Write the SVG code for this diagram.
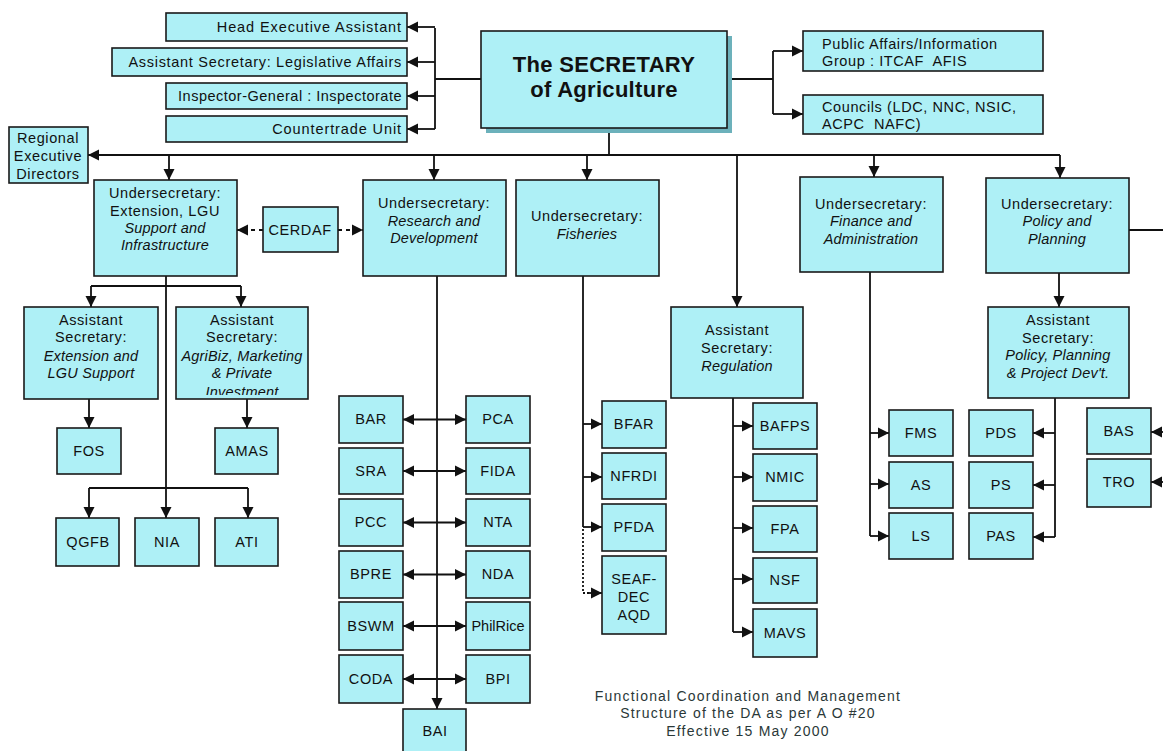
<svg xmlns="http://www.w3.org/2000/svg" width="1163" height="751" viewBox="0 0 1163 751">
<style>
.b{fill:#aef0f6;stroke:#1a1a1a;stroke-width:1.6}
.t{font-family:"Liberation Sans",Arial,sans-serif;font-size:14.5px;letter-spacing:0.6px;fill:#111;text-anchor:middle}
.i{font-style:italic;letter-spacing:0.2px}
.l{text-anchor:start}
.r{text-anchor:end;letter-spacing:0.9px}
.c{fill:none;stroke:#111;stroke-width:1.8}
.a{marker-end:url(#ah)}
.d{marker-start:url(#ah);marker-end:url(#ah)}
.cap{font-family:"Liberation Sans",Arial,sans-serif;font-size:14px;letter-spacing:1.2px;fill:#2a3838;text-anchor:middle}
</style>
<defs>
<marker id="ah" markerUnits="userSpaceOnUse" markerWidth="13" markerHeight="13" refX="11" refY="6.5" orient="auto-start-reverse">
<path d="M0,1 L11,6.5 L0,12 Z" fill="#111"/>
</marker>
<clipPath id="agriClip"><rect x="176" y="307" width="132" height="88"/></clipPath>
</defs>
<rect width="1163" height="751" fill="#fff"/>

<g id="connectors">
<path class="c" d="M435,28 V129 M435,79 H481"/>
<path class="c a" d="M435,27 H407"/>
<path class="c a" d="M435,62 H407"/>
<path class="c a" d="M435,96 H407"/>
<path class="c a" d="M435,129 H407"/>
<path class="c" d="M727,79 H773 M773,51 V114"/>
<path class="c a" d="M773,51 H803"/>
<path class="c a" d="M773,114 H803"/>
<path class="c" d="M609,133 V155"/>
<path class="c a" d="M1060,155 H88"/>
<path class="c a" d="M169,155 V180"/>
<path class="c a" d="M434,155 V180"/>
<path class="c a" d="M587,155 V180"/>
<path class="c a" d="M737,155 V307"/>
<path class="c a" d="M874,155 V177"/>
<path class="c a" d="M1060,155 V178"/>
<path class="c" d="M1129,230 H1163"/>
<path class="c a" d="M1059,273 V307"/>
<path class="c" d="M91,286 H241"/>
<path class="c a" d="M166,276 V518"/>
<path class="c a" d="M91,286 V307"/>
<path class="c a" d="M241,286 V307"/>
<path class="c a" d="M89,399 V428"/>
<path class="c a" d="M247,399 V428"/>
<path class="c" d="M89,488 H248"/>
<path class="c a" d="M89,488 V518"/>
<path class="c a" d="M248,488 V518"/>
<path class="c a" d="M263,230 H237" stroke-dasharray="4 4"/>
<path class="c a" d="M338,230 H363" stroke-dasharray="4 4"/>
<path class="c a" d="M437,276 V709"/>
<path class="c d" d="M466,419.5 H403"/>
<path class="c d" d="M466,471 H403"/>
<path class="c d" d="M466,522.5 H403"/>
<path class="c d" d="M466,574.5 H403"/>
<path class="c d" d="M466,626 H403"/>
<path class="c d" d="M466,679 H403"/>
<path class="c" d="M583,276 V527"/>
<path class="c a" d="M583,424 H602"/>
<path class="c a" d="M583,477 H602"/>
<path class="c a" d="M583,527 H602"/>
<path class="c" d="M583,529 V593 H590" stroke-dasharray="2 2" stroke-width="1.5"/>
<path class="c a" d="M589,593 H602"/>
<path class="c" d="M733,398 V632"/>
<path class="c a" d="M733,426 H753"/>
<path class="c a" d="M733,477 H753"/>
<path class="c a" d="M733,528 H753"/>
<path class="c a" d="M733,579 H753"/>
<path class="c a" d="M733,632 H753"/>
<path class="c" d="M870,272 V536"/>
<path class="c a" d="M870,433 H889"/>
<path class="c a" d="M870,484 H889"/>
<path class="c a" d="M870,536 H889"/>
<path class="c" d="M1055,398 V537"/>
<path class="c a" d="M1055,433 H1033"/>
<path class="c a" d="M1055,485 H1033"/>
<path class="c a" d="M1055,537 H1033"/>
<path class="c a" d="M1165,432 H1151"/>
<path class="c a" d="M1165,482 H1151"/>
</g>

<g id="head-exec"><rect class="b" x="166" y="13" width="241" height="28"/><text class="t r" x="402" y="32">Head Executive Assistant</text></g>
<g id="legislative"><rect class="b" x="112" y="48" width="295" height="28"/><text class="t r" x="402" y="67" style="letter-spacing:0.7px">Assistant Secretary: Legislative Affairs</text></g>
<g id="inspector"><rect class="b" x="166" y="83" width="241" height="26"/><text class="t r" x="402" y="101" style="letter-spacing:0.5px">Inspector-General : Inspectorate</text></g>
<g id="countertrade"><rect class="b" x="166" y="116" width="241" height="26"/><text class="t r" x="402" y="134">Countertrade Unit</text></g>

<g id="secretary">
<rect x="486" y="36" width="246" height="97" fill="#6cb1bb"/>
<rect class="b" x="481" y="31" width="246" height="97"/>
<text class="t" x="604" y="72" style="font-size:22px;font-weight:bold;letter-spacing:0.3px">The SECRETARY</text>
<text class="t" x="604" y="97" style="font-size:22px;font-weight:bold;letter-spacing:0.3px">of Agriculture</text>
</g>
<g id="public-affairs"><rect class="b" x="803" y="31" width="240" height="40"/><text class="t l" x="822" y="49">Public Affairs/Information</text><text class="t l" x="822" y="66" xml:space="preserve">Group : ITCAF  AFIS</text></g>
<g id="councils"><rect class="b" x="803" y="95" width="240" height="39"/><text class="t l" x="822" y="112">Councils (LDC, NNC, NSIC,</text><text class="t l" x="822" y="129" xml:space="preserve">ACPC  NAFC)</text></g>

<g id="regional"><rect class="b" x="9" y="127" width="79" height="56"/><text class="t" x="48" y="143">Regional</text><text class="t" x="48" y="161">Executive</text><text class="t" x="48" y="179">Directors</text></g>

<g id="usec-extension"><rect class="b" x="94" y="180" width="143" height="96"/><text class="t" x="165" y="198">Undersecretary:</text><text class="t" x="165" y="216">Extension, LGU</text><text class="t i" x="165" y="233">Support and</text><text class="t i" x="165" y="250">Infrastructure</text></g>
<g id="cerdaf"><rect class="b" x="263" y="207" width="75" height="45"/><text class="t" x="300" y="235">CERDAF</text></g>
<g id="usec-rd"><rect class="b" x="363" y="180" width="143" height="96"/><text class="t" x="434" y="208">Undersecretary:</text><text class="t i" x="434" y="226">Research and</text><text class="t i" x="434" y="243">Development</text></g>
<g id="usec-fisheries"><rect class="b" x="516" y="180" width="143" height="96"/><text class="t" x="587" y="221">Undersecretary:</text><text class="t i" x="587" y="239">Fisheries</text></g>
<g id="usec-finance"><rect class="b" x="800" y="177" width="143" height="95"/><text class="t" x="871" y="209">Undersecretary:</text><text class="t i" x="871" y="226">Finance and</text><text class="t i" x="871" y="244">Administration</text></g>
<g id="usec-policy"><rect class="b" x="986" y="178" width="143" height="95"/><text class="t" x="1057" y="209">Undersecretary:</text><text class="t i" x="1057" y="226">Policy and</text><text class="t i" x="1057" y="244">Planning</text></g>

<g id="asec-extension"><rect class="b" x="24" y="307" width="134" height="92"/><text class="t" x="91" y="325">Assistant</text><text class="t" x="91" y="342">Secretary:</text><text class="t i" x="91" y="361">Extension and</text><text class="t i" x="91" y="378">LGU Support</text></g>
<g id="asec-agribiz"><rect class="b" x="176" y="307" width="132" height="92"/><g clip-path="url(#agriClip)"><text class="t" x="242" y="325">Assistant</text><text class="t" x="242" y="342">Secretary:</text><text class="t i" x="242" y="361">AgriBiz, Marketing</text><text class="t i" x="242" y="378">&amp; Private</text><text class="t i" x="242" y="397">Investment</text></g></g>
<g id="fos"><rect class="b" x="57" y="428" width="64" height="46"/><text class="t" x="89" y="456">FOS</text></g>
<g id="amas"><rect class="b" x="215" y="428" width="63" height="46"/><text class="t" x="247" y="456">AMAS</text></g>
<g id="qgfb"><rect class="b" x="56" y="518" width="63" height="48"/><text class="t" x="88" y="547">QGFB</text></g>
<g id="nia"><rect class="b" x="135" y="518" width="64" height="48"/><text class="t" x="167" y="547">NIA</text></g>
<g id="ati"><rect class="b" x="215" y="518" width="63" height="48"/><text class="t" x="247" y="547">ATI</text></g>

<g id="bar"><rect class="b" x="339" y="396" width="64" height="47"/><text class="t" x="371" y="424">BAR</text></g>
<g id="sra"><rect class="b" x="339" y="448" width="64" height="46"/><text class="t" x="371" y="476">SRA</text></g>
<g id="pcc"><rect class="b" x="339" y="499" width="64" height="47"/><text class="t" x="371" y="527">PCC</text></g>
<g id="bpre"><rect class="b" x="339" y="551" width="64" height="47"/><text class="t" x="371" y="579">BPRE</text></g>
<g id="bswm"><rect class="b" x="339" y="602" width="64" height="48"/><text class="t" x="371" y="631">BSWM</text></g>
<g id="coda"><rect class="b" x="339" y="655" width="64" height="48"/><text class="t" x="371" y="684">CODA</text></g>
<g id="pca"><rect class="b" x="466" y="396" width="64" height="47"/><text class="t" x="498" y="424">PCA</text></g>
<g id="fida"><rect class="b" x="466" y="448" width="64" height="46"/><text class="t" x="498" y="476">FIDA</text></g>
<g id="nta"><rect class="b" x="466" y="499" width="64" height="47"/><text class="t" x="498" y="527">NTA</text></g>
<g id="nda"><rect class="b" x="466" y="551" width="64" height="47"/><text class="t" x="498" y="579">NDA</text></g>
<g id="philrice"><rect class="b" x="466" y="602" width="64" height="48"/><text class="t" x="498" y="631" style="letter-spacing:0">PhilRice</text></g>
<g id="bpi"><rect class="b" x="466" y="655" width="64" height="48"/><text class="t" x="498" y="684">BPI</text></g>
<g id="bai"><rect class="b" x="403" y="709" width="63" height="50"/><text class="t" x="435" y="736">BAI</text></g>

<g id="bfar"><rect class="b" x="602" y="401" width="64" height="47"/><text class="t" x="634" y="429">BFAR</text></g>
<g id="nfrdi"><rect class="b" x="602" y="453" width="64" height="46"/><text class="t" x="634" y="481">NFRDI</text></g>
<g id="pfda"><rect class="b" x="602" y="504" width="64" height="47"/><text class="t" x="634" y="532">PFDA</text></g>
<g id="seafdec"><rect class="b" x="602" y="556" width="64" height="78"/><text class="t" x="634" y="584">SEAF-</text><text class="t" x="634" y="602">DEC</text><text class="t" x="634" y="620">AQD</text></g>

<g id="asec-regulation"><rect class="b" x="671" y="307" width="132" height="91"/><text class="t" x="737" y="335">Assistant</text><text class="t" x="737" y="353">Secretary:</text><text class="t i" x="737" y="371">Regulation</text></g>
<g id="bafps"><rect class="b" x="753" y="403" width="64" height="46"/><text class="t" x="785" y="431">BAFPS</text></g>
<g id="nmic"><rect class="b" x="753" y="454" width="64" height="47"/><text class="t" x="785" y="482">NMIC</text></g>
<g id="fpa"><rect class="b" x="753" y="506" width="64" height="46"/><text class="t" x="785" y="534">FPA</text></g>
<g id="nsf"><rect class="b" x="753" y="558" width="64" height="45"/><text class="t" x="785" y="585">NSF</text></g>
<g id="mavs"><rect class="b" x="753" y="609" width="64" height="48"/><text class="t" x="785" y="638">MAVS</text></g>

<g id="fms"><rect class="b" x="889" y="410" width="64" height="46"/><text class="t" x="921" y="438">FMS</text></g>
<g id="as"><rect class="b" x="889" y="462" width="64" height="46"/><text class="t" x="921" y="490">AS</text></g>
<g id="ls"><rect class="b" x="889" y="513" width="64" height="46"/><text class="t" x="921" y="541">LS</text></g>

<g id="asec-policy"><rect class="b" x="988" y="307" width="141" height="91"/><text class="t" x="1058" y="325">Assistant</text><text class="t" x="1058" y="343">Secretary:</text><text class="t i" x="1058" y="360">Policy, Planning</text><text class="t i" x="1058" y="378">&amp; Project Dev't.</text></g>
<g id="pds"><rect class="b" x="969" y="410" width="64" height="46"/><text class="t" x="1001" y="438">PDS</text></g>
<g id="ps"><rect class="b" x="969" y="462" width="64" height="46"/><text class="t" x="1001" y="490">PS</text></g>
<g id="pas"><rect class="b" x="969" y="513" width="64" height="46"/><text class="t" x="1001" y="541">PAS</text></g>
<g id="bas"><rect class="b" x="1087" y="408" width="64" height="46"/><text class="t" x="1119" y="436">BAS</text></g>
<g id="tro"><rect class="b" x="1087" y="459" width="64" height="48"/><text class="t" x="1119" y="487">TRO</text></g>

<g id="caption">
<text class="cap" x="748" y="701">Functional Coordination and Management</text>
<text class="cap" x="748" y="718">Structure of the DA as per A O #20</text>
<text class="cap" x="748" y="736">Effective 15 May 2000</text>
</g>
</svg>
